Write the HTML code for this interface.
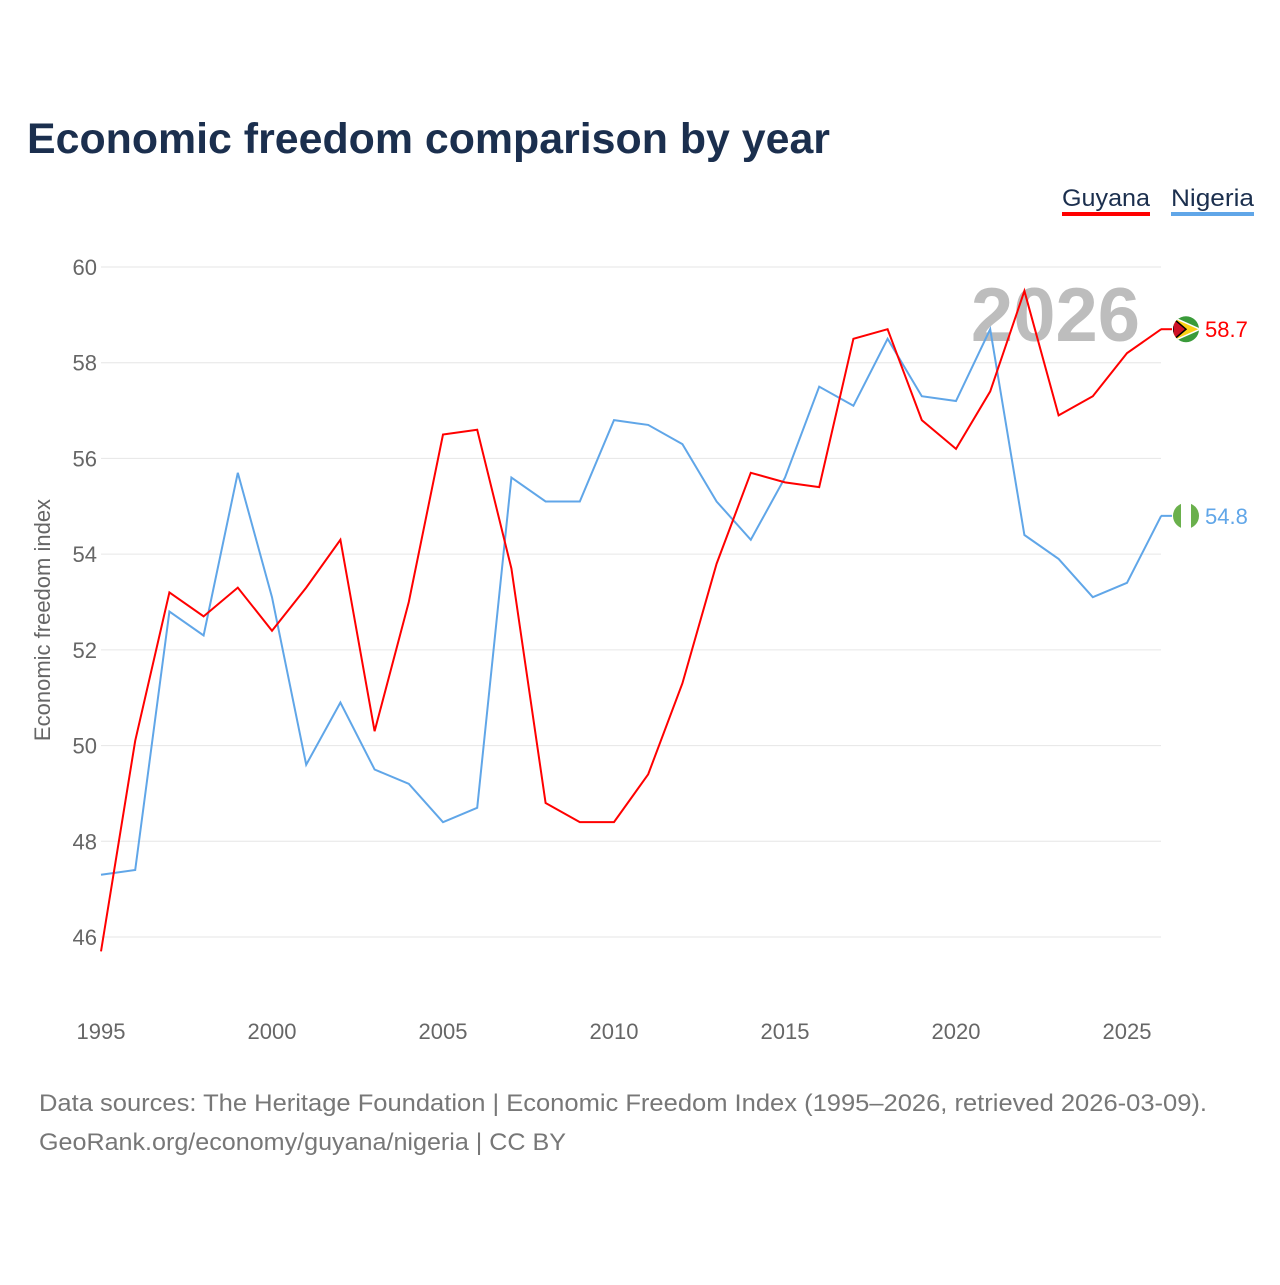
<!DOCTYPE html>
<html><head><meta charset="utf-8"><style>
body{margin:0;background:#fff;font-family:"Liberation Sans",sans-serif;}
svg text{font-family:"Liberation Sans",sans-serif;}
</style></head><body>
<svg id="chart" width="1280" height="1280" xmlns="http://www.w3.org/2000/svg">
<defs>
<clipPath id="cg"><circle id="cgc" cx="1186" cy="0" r="13"/></clipPath>
<clipPath id="cn"><circle id="cnc" cx="1186" cy="0" r="13"/></clipPath>
</defs>
<text x="27" y="153" font-size="43" font-weight="bold" fill="#1b2f4e" textLength="803" lengthAdjust="spacingAndGlyphs">Economic freedom comparison by year</text>
<g>
<text x="1062" y="206" font-size="24" fill="#1b2f4e" textLength="88" lengthAdjust="spacingAndGlyphs">Guyana</text>
<rect x="1062" y="212" width="88" height="4" fill="#ff0000"/>
<text x="1171" y="206" font-size="24" fill="#1b2f4e" textLength="83" lengthAdjust="spacingAndGlyphs">Nigeria</text>
<rect x="1171" y="212" width="83" height="4" fill="#60a6e8"/>
</g>
<g id="grid"></g>
<g id="yt"></g>
<g id="xt"></g>
<text x="1140" y="341" font-size="76" font-weight="bold" fill="#bdbdbd" text-anchor="end">2026</text>
<text transform="translate(50,620) rotate(-90)" font-size="22" fill="#666" text-anchor="middle">Economic freedom index</text>
<g id="lines"></g>
<text x="39" y="1111" font-size="24" fill="#777" textLength="1168" lengthAdjust="spacingAndGlyphs">Data sources: The Heritage Foundation | Economic Freedom Index (1995–2026, retrieved 2026-03-09).</text>
<text x="39" y="1150" font-size="24" fill="#777" textLength="527" lengthAdjust="spacingAndGlyphs">GeoRank.org/economy/guyana/nigeria | CC BY</text>
</svg>
<script>
const years=[1995,1996,1997,1998,1999,2000,2001,2002,2003,2004,2005,2006,2007,2008,2009,2010,2011,2012,2013,2014,2015,2016,2017,2018,2019,2020,2021,2022,2023,2024,2025,2026];
const guyana=[45.7,50.1,53.2,52.7,53.3,52.4,53.3,54.3,50.3,53.0,56.5,56.6,53.7,48.8,48.4,48.4,49.4,51.3,53.8,55.7,55.5,55.4,58.5,58.7,56.8,56.2,57.4,59.5,56.9,57.3,58.2,58.7];
const nigeria=[47.3,47.4,52.8,52.3,55.7,53.1,49.6,50.9,49.5,49.2,48.4,48.7,55.6,55.1,55.1,56.8,56.7,56.3,55.1,54.3,55.6,57.5,57.1,58.5,57.3,57.2,58.7,54.4,53.9,53.1,53.4,54.8];
const yTicks=[46,48,50,52,54,56,58,60];
const xTicks=[1995,2000,2005,2010,2015,2020,2025];
const NS="http://www.w3.org/2000/svg";
const X=y=>101+(y-1995)*(1127-101)/30;
const Y=v=>267+(60-v)*(937-267)/14;
function mk(t,a,p){const e=document.createElementNS(NS,t);for(const k in a)e.setAttribute(k,a[k]);p.appendChild(e);return e;}
const grid=document.getElementById('grid'),yt=document.getElementById('yt'),xt=document.getElementById('xt'),lines=document.getElementById('lines');
yTicks.forEach(v=>{
 const l=mk('line',{x1:101,x2:1161,y1:Y(v),y2:Y(v),stroke:'#e6e6e6','stroke-width':1},grid);
 
 
 const t=mk('text',{x:97,y:Y(v)+8,'font-size':22,fill:'#666','text-anchor':'end'},yt);
 t.textContent=v;
 
 
});
xTicks.forEach(v=>{
 const t=mk('text',{x:X(v),y:1039,'font-size':22,fill:'#666','text-anchor':'middle'},xt);
 t.textContent=v;
 
 
});
function series(vals,color,name){
 const p=mk('polyline',{points:vals.map((v,i)=>X(years[i])+','+Y(v)).join(' '),fill:'none',stroke:color,'stroke-width':2},lines);
 
 
 const last=vals[vals.length-1],yy=Y(last);
 mk('line',{x1:1161,x2:1172,y1:yy,y2:yy,stroke:color,'stroke-width':2},lines);
 const g=mk('g',{'clip-path':name==='guyana'?'url(#cg)':'url(#cn)'},lines);
 document.getElementById(name==='guyana'?'cgc':'cnc').setAttribute('cy',yy);
 
 
 if(name==='guyana'){
  mk('rect',{x:1172,y:yy-14,width:28,height:28,fill:'#3a9b3a'},g);
  mk('polygon',{points:`1173,${yy-12} 1200,${yy} 1173,${yy+12}`,fill:'#fcd116',stroke:'#fff','stroke-width':1.5},g);
  mk('polygon',{points:`1173,${yy-11} 1186,${yy} 1173,${yy+11}`,fill:'#ce1126',stroke:'#000','stroke-width':1.5},g);
 }else{
  mk('rect',{x:1172,y:yy-14,width:28,height:28,fill:'#fff'},g);
  mk('rect',{x:1172,y:yy-14,width:9,height:28,fill:'#6ab04c'},g);
  mk('rect',{x:1191,y:yy-14,width:9,height:28,fill:'#6ab04c'},g);
 }
 const t=mk('text',{x:1205,y:yy+8,'font-size':22,fill:color},lines);
 t.textContent=last.toFixed(1);
 
 
}
series(nigeria,'#60a6e8','nigeria');
series(guyana,'#ff0000','guyana');
</script>
</body></html>
